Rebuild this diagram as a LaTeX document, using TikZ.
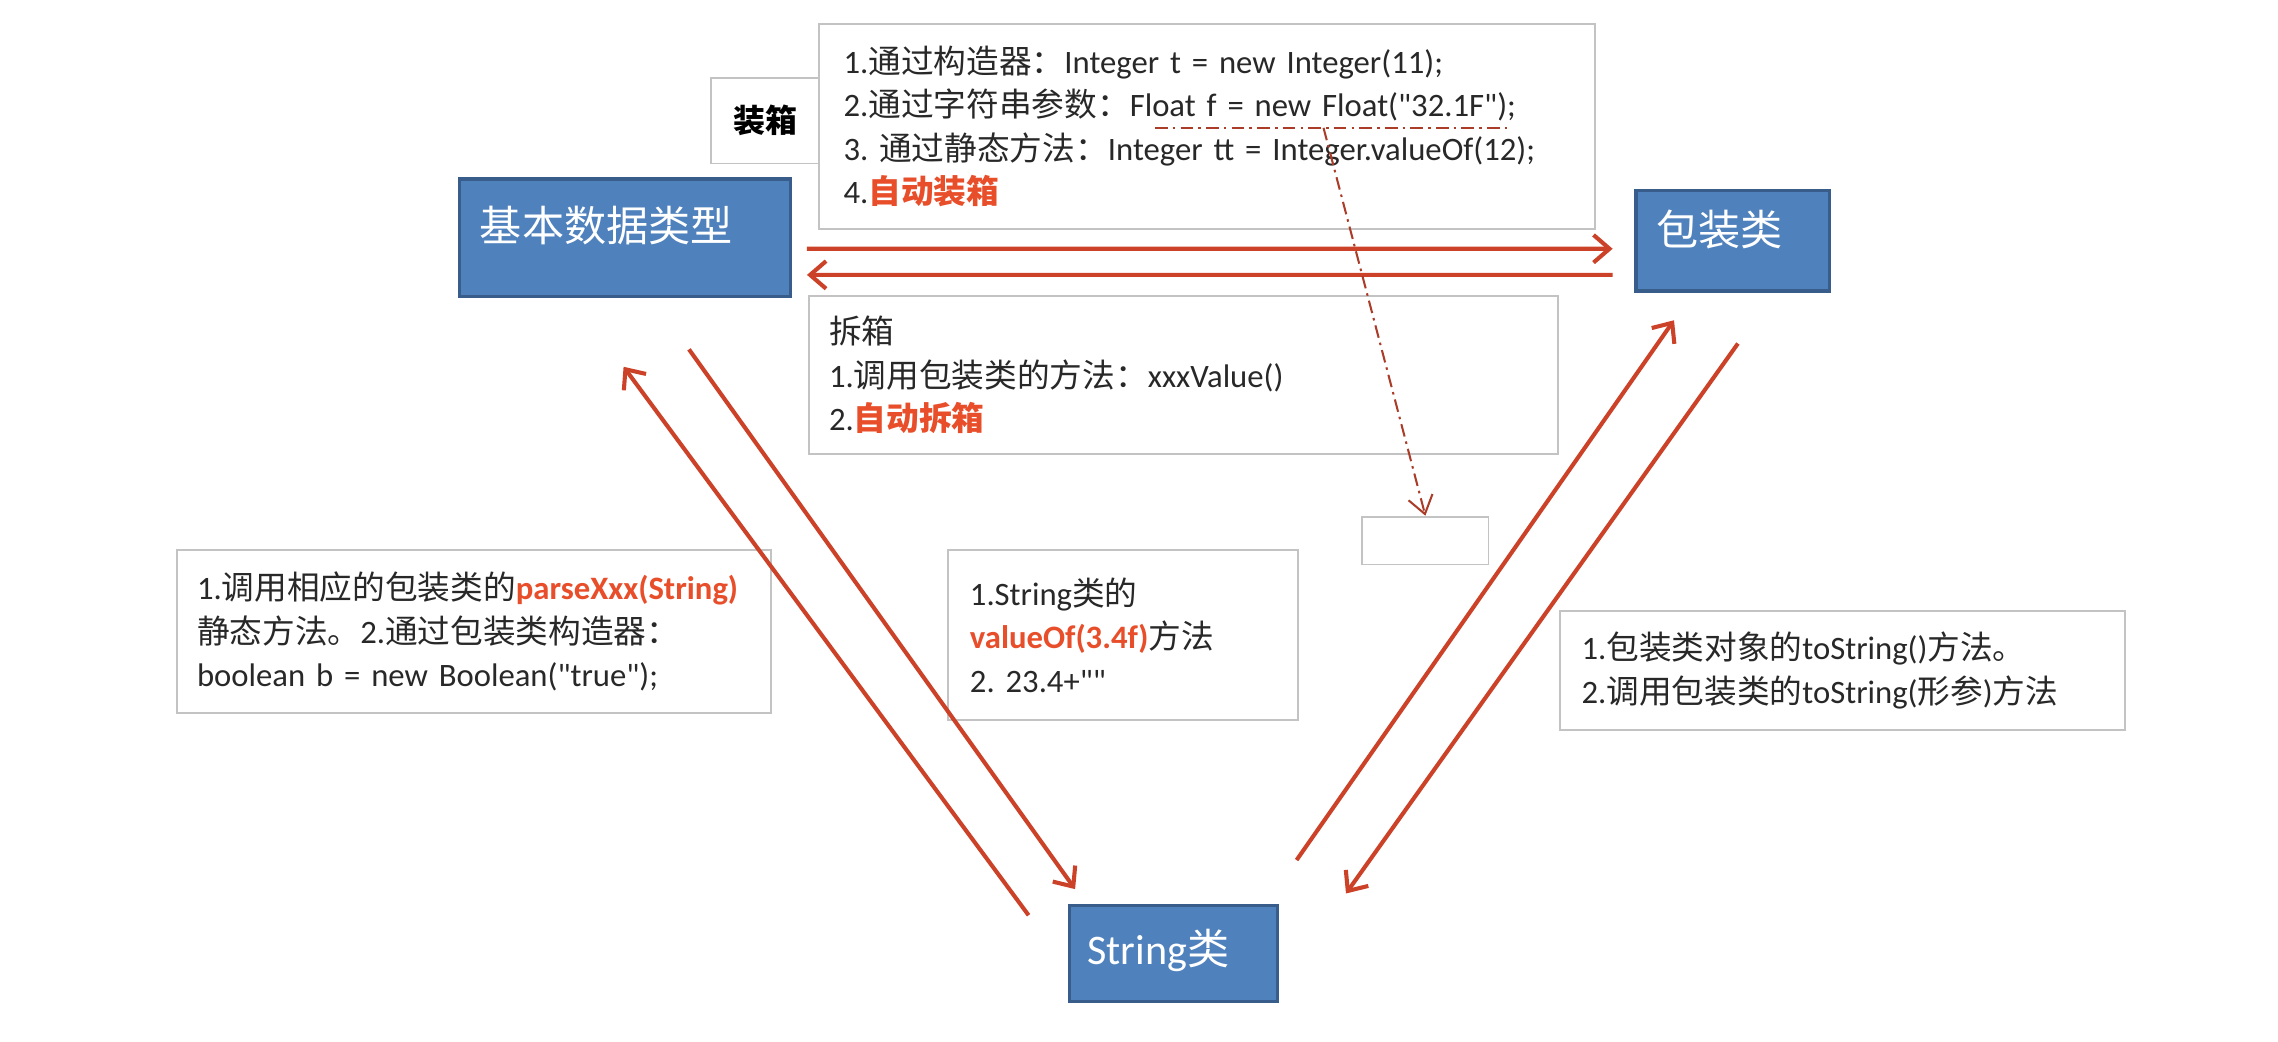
\documentclass[tikz,border=0pt]{standalone}
\usepackage{fontspec}
\setmainfont{Carlito}[Ligatures=TeXOff]
\newfontfamily\cjk{Noto Sans CJK SC}
\usetikzlibrary{arrows.meta,positioning,calc}
\definecolor{classBlue}{RGB}{79,129,189}
\definecolor{classEdge}{RGB}{56,93,138}
\definecolor{convRed}{RGB}{204,66,40}
\definecolor{hintRed}{RGB}{170,60,40}
\definecolor{keyRed}{RGB}{232,78,42}
\definecolor{noteText}{RGB}{40,40,40}
\definecolor{noteFrame}{RGB}{195,195,195}
\newcommand{\zh}[1]{{\cjk #1}}
\newcommand{\key}[1]{{\color{keyRed}\bfseries #1}}
\frenchspacing

\begin{document}
\begin{tikzpicture}[
    classbox/.style={rectangle, draw=classEdge, line width=1.4pt, fill=classBlue, anchor=north west, inner sep=0pt},
    classname/.style={anchor=west, inner sep=0pt, text=white, font=\fontsize{16.5}{19}\selectfont},
    note/.style={rectangle, draw=noteFrame, line width=0.7pt, fill=white, anchor=north west, align=left, inner xsep=0.3cm, inner ysep=0pt, font=\fontsize{12.8}{17}\selectfont, text=noteText},
    conv/.style={-{Straight Barb[length=2.2mm, width=3.8mm]}, line width=1.6pt, draw=convRed},
    hint/.style={line width=0.8pt, draw=hintRed, dash pattern=on 5pt off 2pt on 1pt off 2pt}
]
\fill[white] (0,0) rectangle (31.36,14.34);
\useasboundingbox (0,0) rectangle (31.36,14.34);

% classes
\node[classbox, minimum width=4.56cm, minimum height=1.62cm] (basic) at (6.30,11.90) {};
\node[classname] (basic-name) at ([shift={(0.30,-0.66)}]basic.north west) {\zh{基本数据类型}};
\node[classbox, minimum width=2.66cm, minimum height=1.38cm] (wrapper) at (22.50,11.74) {};
\node[classname] (wrapper-name) at ([shift={(0.30,-0.56)}]wrapper.north west) {\zh{包装类}};
\node[classbox, minimum width=2.86cm, minimum height=1.32cm] (strcls) at (14.70,1.90) {};
\node[classname] (strcls-name) at ([shift={(0.26,-0.64)}]strcls.north west) {String\zh{类}};

% notes
\node[note, minimum width=1.48cm, minimum height=1.18cm, inner xsep=0pt, font=\bfseries\fontsize{12.5}{15}\selectfont, text=black] (boxing-tag) at (9.78,13.28) {\zh{装箱}};
\node[note, minimum height=2.82cm, text width=10.0cm, inner xsep=0.34cm] (boxing) at (11.26,14.02) {%
1.\zh{通过构造器：}Integer t = new Integer(11);\\
2.\zh{通过字符串参数：}Float f = new Float("32.1F");\\
3. \zh{通过静态方法：}Integer tt = Integer.valueOf(12);\\
4.\key{\zh{自动装箱}}};
\node[note, minimum height=2.18cm, text width=9.76cm, inner xsep=0.28cm] (unboxing) at (11.12,10.28) {%
\zh{拆箱}\\
1.\zh{调用包装类的方法：}xxxValue()\\
2.\key{\zh{自动拆箱}}};
\node[note, minimum height=2.24cm, text width=7.62cm, inner xsep=0.28cm] (parse) at (2.42,6.78) {%
1.\zh{调用相应的包装类的}\key{parseXxx(String)}\\
\zh{静态方法。}2.\zh{通过包装类构造器：}\\
boolean b = new Boolean("true");};
\node[note, minimum height=2.34cm, text width=4.22cm] (valueof) at (13.04,6.78) {%
1.String\zh{类的}\\
\key{valueOf(3.4f)}\zh{方法}\\
2. 23.4+""};
\node[note, minimum height=1.64cm, text width=7.18cm] (tostr) at (21.46,5.94) {%
1.\zh{包装类对象的}toString()\zh{方法。}\\
2.\zh{调用包装类的}toString(\zh{形参})\zh{方法}};
\node[note, minimum width=1.74cm, minimum height=0.66cm] (blank) at (18.74,7.24) {};

% conversions
\draw[conv] ([shift={(0.20,-0.15)}]basic.east) -- ([shift={(-0.30,-0.11)}]wrapper.west);
\draw[conv] ([shift={(-0.30,-0.47)}]wrapper.west) -- ([shift={(0.20,-0.51)}]basic.east);
\draw[conv] ([shift={(0.88,-0.70)}]basic.south) -- ([shift={(0.10,0.20)}]strcls.north west);
\draw[conv] ([shift={(-0.54,-0.16)}]strcls.north west) -- ([shift={(-0.02,-0.94)}]basic.south);
\draw[conv] ([shift={(0.24,0.60)}]strcls.north east) -- ([shift={(-0.81,-0.38)}]wrapper.south);
\draw[conv] ([shift={(0.07,-0.70)}]wrapper.south) -- ([shift={(0.92,0.14)}]strcls.north east);

% hint from the Float line
\coordinate (mark-a) at (15.90,12.58);
\coordinate (mark-b) at (20.74,12.58);
\coordinate (mark) at (18.22,12.58);
\draw[hint] (mark-a) -- (mark-b);
\draw[hint, -{Straight Barb[length=2.4mm, width=3.4mm]}] (mark) -- (blank.north);
\end{tikzpicture}
\end{document}
